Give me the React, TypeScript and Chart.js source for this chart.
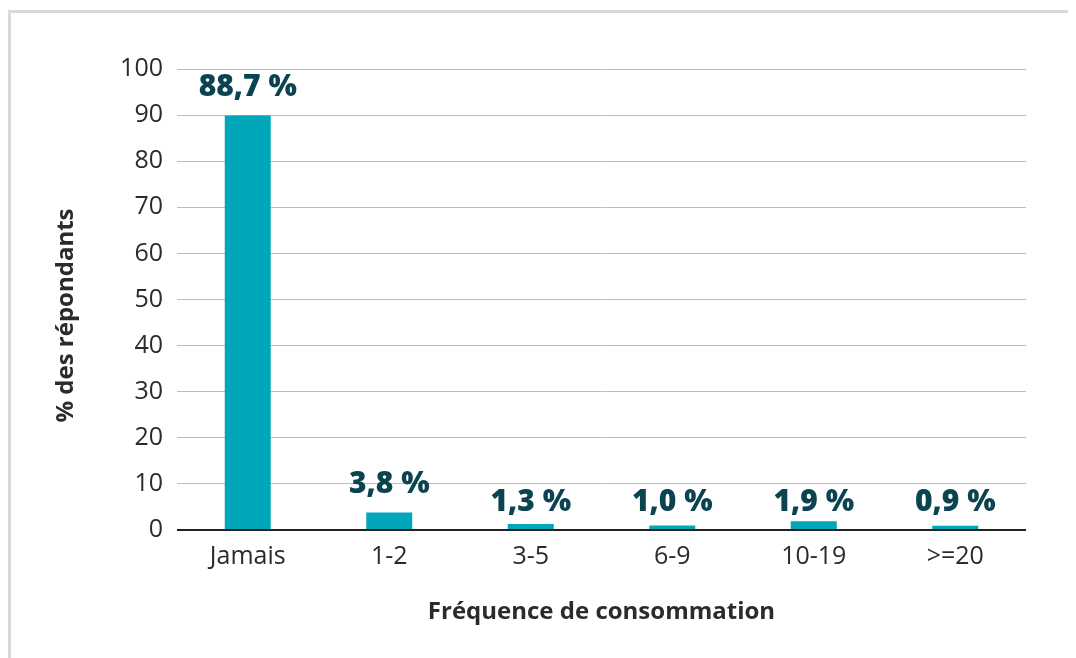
import React, { useEffect, useRef } from 'react';
import { Chart, registerables } from 'chart.js';

Chart.register(...registerables);

const categories = ['Jamais', '1-2', '3-5', '6-9', '10-19', '>=20'];
const barValues = [89.9, 3.8, 1.3, 1.0, 1.9, 0.9];
const valueLabels = ['88,7 %', '3,8 %', '1,3 %', '1,0 %', '1,9 %', '0,9 %'];
const yMin = 0;
const yMax = 100;
const yStep = 10;
const yAxisTitle = '% des répondants';
const xAxisTitle = 'Fréquence de consommation';

const BAR_COLOR = '#00a6b9';
const LABEL_COLOR = '#0b4351';
const TEXT_COLOR = '#2b2b2b';

const labelPlugin = {
  id: 'valueLabels',
  afterDatasetsDraw(chart: any) {
    const ctx = chart.ctx;
    const meta = chart.getDatasetMeta(0);
    ctx.save();
    ctx.font = '800 30px "Open Sans"';
    ctx.fillStyle = LABEL_COLOR;
    ctx.textAlign = 'center';
    ctx.textBaseline = 'alphabetic';
    meta.data.forEach((bar: any, i: number) => {
      const h = bar.base - bar.y;
      const y = h > 15 ? bar.y - 19.5 : bar.base - 18;
      ctx.fillText(valueLabels[i], bar.x, y);
    });
    ctx.restore();
  },
  afterDraw(chart: any) {
    const ctx = chart.ctx;
    const area = chart.chartArea;
    ctx.save();
    ctx.font = 'bold 24px "Open Sans"';
    ctx.fillStyle = TEXT_COLOR;
    ctx.textAlign = 'center';
    ctx.textBaseline = 'middle';
    ctx.translate(58, (area.top + area.bottom) / 2 + 16);
    ctx.rotate(-Math.PI / 2);
    ctx.fillText(yAxisTitle, 0, 0);
    ctx.restore();
  },
};

export default function App() {
  const canvasRef = useRef<HTMLCanvasElement | null>(null);

  useEffect(() => {
    document.documentElement.style.overflow = 'hidden';
    document.body.style.overflow = 'hidden';
    const canvas = canvasRef.current;
    if (!canvas) return;
    const chart = new Chart(canvas, {
      type: 'bar',
      data: {
        labels: categories,
        datasets: [
          {
            data: barValues,
            backgroundColor: BAR_COLOR,
            borderWidth: 0,
            barPercentage: 0.325,
            categoryPercentage: 1,
          },
        ],
      },
      options: {
        responsive: false,
        animation: false,
        devicePixelRatio: 1,
        layout: { padding: { top: 61, right: 50, bottom: 0, left: 0 } },
        plugins: {
          legend: { display: false },
          tooltip: { enabled: false },
          title: { display: false },
        },
        scales: {
          x: {
            grid: { display: false, drawTicks: false },
            border: { display: false },
            ticks: {
              color: TEXT_COLOR,
              font: { family: '"Open Sans"', size: 25 },
              padding: 12,
              maxRotation: 0,
              autoSkip: false,
            },
            title: {
              display: true,
              text: xAxisTitle,
              color: TEXT_COLOR,
              font: { family: '"Open Sans"', size: 24, weight: 'bold' },
              padding: { top: 0, bottom: 31 },
            },
            afterFit: (s: any) => {
              s.height = 128;
            },
          },
          y: {
            min: yMin,
            max: yMax,
            grid: {
              drawTicks: false,
              color: (c: any) => (c.tick && c.tick.value === 0 ? '#222222' : '#bdbdbd'),
              lineWidth: (c: any) => (c.tick && c.tick.value === 0 ? 2 : 1),
            },
            border: { display: false },
            ticks: {
              stepSize: yStep,
              color: TEXT_COLOR,
              font: { family: '"Open Sans"', size: 25 },
              padding: 14,
            },
            title: { display: false },
            afterFit: (s: any) => {
              s.width = 169;
            },
          },
        },
      },
      plugins: [labelPlugin],
    });
    return () => chart.destroy();
  }, []);

  return (
    <div style={{ position: 'relative', width: 1068, height: 650 }}>
      <div
        style={{
          position: 'absolute',
          left: 0,
          top: 2,
          width: 1068,
          height: 660,
          borderTop: '3px solid #d9d9d9',
          borderLeft: '3px solid #d9d9d9',
          boxSizing: 'border-box',
        }}
      />
      <canvas
        ref={canvasRef}
        width={1068}
        height={650}
        style={{ position: 'absolute', left: 0, top: 0, width: 1068, height: 650 }}
      />
    </div>
  );
}
